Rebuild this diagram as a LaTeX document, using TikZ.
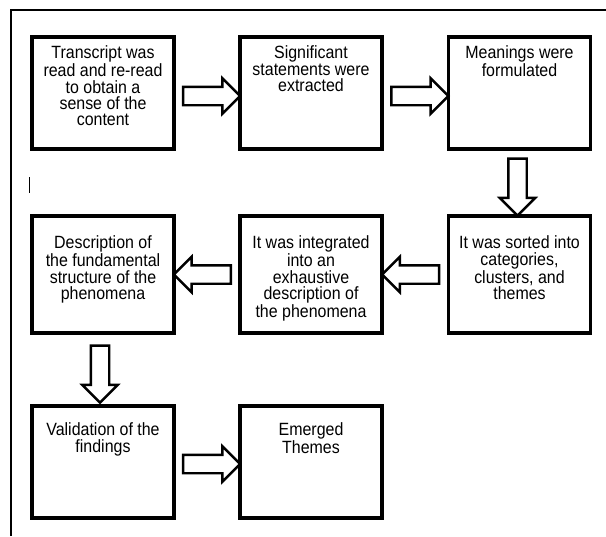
\documentclass[tikz,border=0pt]{standalone}
\usepackage{fontspec}
\setmainfont{Liberation Sans}[FakeStretch=0.9]
\usetikzlibrary{positioning,calc,shapes.arrows}

\tikzset{every picture/.style={line width=0.75pt}}
\tikzset{
  stepbox/.style={draw, line width=2.4pt, rectangle, minimum width=106.5pt, inner sep=0pt},
  boxtext/.style={inner sep=0pt, align=center, font=\fontsize{13.3}{12.3}\selectfont},
  blockarrow/.style={draw, line width=1.8pt, single arrow, inner sep=6pt, minimum height=42.75pt, single arrow head extend=6.4pt, single arrow tip angle=90}
}

\begin{document}
\begin{tikzpicture}[x=0.75pt,y=0.75pt,yscale=-1,xscale=1]
    \useasboundingbox (0,0) rectangle (606,536);

    %Frame
    \draw [line width=1.1pt] (11,536) -- (11,10) -- (606,10) ;
    %Cursor mark
    \draw (29,177) -- (29,193) ;

    %Row 1
    \node [stepbox, minimum height=84pt] (b1) at (103,93) {};
    \node [stepbox, minimum height=84pt] (b2) at (311,93) {};
    \node [stepbox, minimum height=84pt] (b3) at (519.5,93) {};
    %Row 2
    \node [stepbox, minimum height=87.75pt] (b6) at (519.5,274.5) {};
    \node [stepbox, minimum height=87.75pt] (b5) at (311,274.5) {};
    \node [stepbox, minimum height=87.75pt] (b4) at (103,274.5) {};
    %Row 3
    \node [stepbox, minimum height=84pt] (b7) at (103,462) {};
    \node [stepbox, minimum height=84pt] (b8) at (311,462) {};

    % Text Node
    \node [boxtext, below=7.5pt of b1.north] (t1) {Transcript was\\read and re-read\\to obtain a\\sense of the\\content};
    % Text Node
    \node [boxtext, below=7.5pt of b2.north] (t2) {Significant\\statements were\\extracted};
    % Text Node
    \node [boxtext, below=7.5pt of b3.north] (t3) {Meanings were\\formulated};
    % Text Node
    \node [boxtext, below=15.75pt of b6.north] (t6) {It was sorted into\\categories,\\clusters, and\\themes};
    % Text Node
    \node [boxtext, below=15.75pt of b5.north] (t5) {It was integrated\\into an\\exhaustive\\description of\\the phenomena};
    % Text Node
    \node [boxtext, below=15.75pt of b4.north] (t4) {Description of\\the fundamental\\structure of the\\phenomena};
    % Text Node
    \node [boxtext, below=13.5pt of b7.north] (t7) {Validation of the\\findings};
    % Text Node
    \node [boxtext, below=13.5pt of b8.north] (t8) {Emerged\\Themes};

    %Block Arrows
    \node [blockarrow] (a1) at ($(b1.east)!0.5!(b2.west)+(0,3)$) {};
    \node [blockarrow] (a2) at ($(b2.east)!0.5!(b3.west)+(0,3)$) {};
    \node [blockarrow, shape border rotate=270] (a3) at ($(b3.south)!0.5!(b6.north)+(-2,0)$) {};
    \node [blockarrow, shape border rotate=180] (a4) at ($(b6.west)!0.5!(b5.east)$) {};
    \node [blockarrow, shape border rotate=180] (a5) at ($(b5.west)!0.5!(b4.east)$) {};
    \node [blockarrow, shape border rotate=270] (a6) at ($(b4.south)!0.5!(b7.north)+(-3,0)$) {};
    \node [blockarrow] (a7) at ($(b7.east)!0.5!(b8.west)+(0,2)$) {};

\end{tikzpicture}
\end{document}
